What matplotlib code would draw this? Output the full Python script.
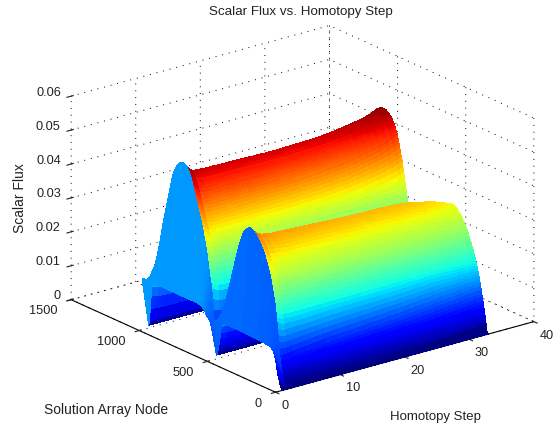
import numpy as np
import matplotlib
matplotlib.use("Agg")
import matplotlib.pyplot as plt

# values, denser nodes on the steep flanks so colour bands stay thin
near_nodes = [0, 12, 20, 24, 28, 32, 36, 40, 44, 48, 52, 56, 60, 64, 68, 72, 76, 80, 84, 88, 92, 96,
              102, 108, 114, 120, 126, 132, 138, 144, 150, 156, 168, 180, 192, 204, 216, 228, 240, 252, 264, 276,
              288, 300, 312, 324, 336, 348, 360, 372, 384, 396, 408, 420, 432, 444, 456, 468, 480, 492, 498, 504,
              510, 516, 522, 528]
far_nodes = [540, 546, 552, 558, 564, 570, 576, 582, 588, 594, 600, 606, 612, 618, 624, 630, 636, 642, 648, 654,
             660, 666, 672, 678, 684, 690, 696, 702, 708, 714, 720, 732, 744, 756, 768, 780, 792, 804, 816, 828,
             840, 852, 864, 876, 888, 900, 912, 924, 936, 948, 960, 972, 984, 990, 996, 1002, 1008, 1014, 1020, 1026]

# flat first guess (step 1)
near_first = [0, .0012, .0024, .0030, .0037, .0044, .0052, .0063, .0074, .0085, .0090, .0095, .0100, .0103, .0106, .0108,
              .0109, .0111, .0112, .0113, .0113, .0114, .0114, .0115, .0115, .0116, .0116, .0116, .0116, .0117, .0117, .0117,
              .0117, .0118, .0118, .0118, .0118, .0119, .0119, .0119, .0119, .0119, .0120, .0120, .0120, .0120, .0120, .0120,
              .0120, .0120, .0120, .0120, .0120, .0120, .0120, .0120, .0120, .0120, .0119, .0118, .0117, .0116,
              .0115, .0114, .0113, .0112]
far_first = [.0114, .0117, .0120, .0124, .0128, .0132, .0135, .0138, .0140, .0142, .0143, .0144, .0144, .0145,
             .0145, .0145, .0145, .0145, .0145, .0145, .0145, .0145, .0145, .0145, .0145, .0145, .0145, .0145,
             .0145, .0145, .0145, .0145, .0145, .0145, .0145, .0145, .0145, .0145, .0145, .0145, .0145, .0145,
             .0145, .0145, .0145, .0145, .0145, .0145, .0145, .0145, .0145, .0145, .0145, .0145, .0145, .0145,
             .0145, .0145, .0145, .0140]

# profile at step 2
near_start = [0, 0, .0001, .0002, .0006, .0012, .0018, .0027, .0036, .0045, .0054, .0063, .0072, .0089, .0107, .0125,
              .0143, .0162, .0180, .0195, .0210, .0225, .0240, .0255, .0268, .0280, .0293, .0305, .0315, .0325, .0334, .0342,
              .0356, .0369, .0380, .0390, .0398, .0406, .0412, .0417, .0421, .0423, .0422, .0419, .0413, .0405, .0394, .0378,
              .0360, .0340, .0319, .0296, .0273, .0250, .0227, .0205, .0183, .0160, .0130, .0095, .0075, .0055,
              .0037, .0020, .0009, .0003]
far_start = [.0070, .0103, .0135, .0165, .0195, .0210, .0225, .0243, .0260, .0278, .0295, .0309, .0322, .0334,
             .0345, .0357, .0368, .0378, .0388, .0397, .0405, .0415, .0425, .0434, .0443, .0453, .0462, .0472,
             .0482, .0490, .0498, .0510, .0518, .0523, .0526, .0526, .0523, .0517, .0510, .0500, .0488, .0470,
             .0445, .0418, .0392, .0366, .0340, .0312, .0280, .0250, .0225, .0200, .0180, .0165, .0150, .0120,
             .0090, .0052, .0015, 0]

# profile at last step
near_end = [0, .0004, .0028, .0040, .0052, .0063, .0075, .0084, .0093, .0102, .0112, .0123, .0133, .0141, .0150, .0158,
            .0165, .0173, .0180, .0187, .0193, .0200, .0209, .0218, .0226, .0234, .0242, .0249, .0256, .0262, .0269, .0275,
            .0286, .0296, .0304, .0312, .0319, .0325, .0329, .0332, .0333, .0333, .0332, .0330, .0326, .0320, .0312, .0304,
            .0294, .0283, .0270, .0256, .0240, .0222, .0203, .0182, .0160, .0138, .0115, .0090, .0075, .0060,
            .0042, .0025, .0012, .0004]
far_end = [.0060, .0095, .0130, .0158, .0185, .0210, .0235, .0252, .0268, .0283, .0298, .0314, .0330, .0348,
           .0365, .0381, .0396, .0408, .0420, .0433, .0445, .0456, .0467, .0475, .0482, .0488, .0494, .0499,
           .0504, .0508, .0511, .0517, .0521, .0524, .0525, .0525, .0523, .0520, .0516, .0510, .0502, .0492,
           .0478, .0460, .0440, .0418, .0392, .0365, .0335, .0300, .0265, .0230, .0190, .0168, .0145, .0115,
           .0085, .0050, .0015, 0]

# ridge heights and shape mix for steps 2..33
near_peak = [.0423, .0400, .0394, .0390, .0388, .0387, .0386, .0385, .0384, .0383, .0382, .0381, .0380, .0379, .0378, .0377,
             .0376, .0376, .0375, .0375, .0375, .0374, .0373, .0372, .0370, .0367, .0363, .0358, .0354, .0348, .0341, .0333]
far_peak = [.0526, .0498, .0492, .0490, .0489, .0489, .0488, .0488, .0488, .0487, .0487, .0486, .0486, .0485, .0485, .0485,
            .0486, .0486, .0487, .0487, .0488, .0489, .0490, .0492, .0494, .0497, .0500, .0503, .0506, .0510, .0516, .0525]
shape_mix = [0, .05, .1, .14, .17, .2, .23, .26, .28, .3, .32, .34, .36, .38, .4, .42,
             .44, .46, .48, .5, .53, .56, .59, .62, .66, .7, .74, .78, .83, .88, .94, 1]

x_ticks = [0, 10, 20, 30, 40]
y_ticks = [0, 500, 1000, 1500]
z_ticks = [0, 0.01, 0.02, 0.03, 0.04, 0.05, 0.06]
z_tick_labels = ['0', '0.01', '0.02', '0.03', '0.04', '0.05', '0.06']

plt.rcParams['font.family'] = ['Liberation Sans', 'DejaVu Sans']
plt.rcParams['font.size'] = 9.2
plt.rcParams['grid.color'] = 'black'
plt.rcParams['grid.linewidth'] = 0.7
plt.rcParams['grid.linestyle'] = (0, (1, 6))

nodes = np.array(near_nodes + far_nodes)
steps = np.arange(1, 34)

# build the surface, one row per homotopy step
near_a = np.array(near_start) / max(near_start)
near_b = np.array(near_end) / max(near_end)
far_a = np.array(far_start) / max(far_start)
far_b = np.array(far_end) / max(far_end)

rows = [np.array(near_first + far_first)]
for i in range(len(near_peak)):
    m = shape_mix[i]
    near_row = ((1 - m) * near_a + m * near_b) * near_peak[i]
    far_row = ((1 - m) * far_a + m * far_b) * far_peak[i]
    rows.append(np.concatenate([near_row, far_row]))
Z = np.array(rows)

Y, X = np.meshgrid(nodes, steps)
colors = plt.cm.jet(Z / Z.max())

fig = plt.figure(figsize=(5.56, 4.26), dpi=100)
# the 3d box is laid out in a big square so nothing gets clipped
ax = fig.add_axes([-5.6 / 556, -91 / 426, 600 / 556, 600 / 426], projection='3d', proj_type='ortho')
ax.patch.set_alpha(0)
fig.patch.set_facecolor('white')
ax.view_init(elev=20.6, azim=-127.85)
ax.set_box_aspect((328, 334, 218), zoom=500 / 600)
ax.computed_zorder = False

# the strip between step 1 and 2 sits in front of the rest, painter sort gets it wrong
ax.plot_surface(X[1:], Y[1:], Z[1:], facecolors=colors[1:], rcount=Z.shape[0], ccount=Z.shape[1],
                shade=False, linewidth=0, antialiased=False, zorder=1)
ax.plot_surface(X[:2], Y[:2], Z[:2], facecolors=colors[:2], rcount=2, ccount=Z.shape[1],
                shade=False, linewidth=0, antialiased=False, zorder=2)

ax.set_xlim(0, 40)
ax.set_ylim(0, 1500)
ax.set_zlim(0, 0.06)
ax.set_xticks(x_ticks)
ax.set_yticks(y_ticks)
ax.set_zticks(z_ticks)
ax.set_zticklabels(z_tick_labels)

for axis in (ax.xaxis, ax.yaxis, ax.zaxis):
    axis.set_pane_color((1, 1, 1, 0))
    axis.pane.set_edgecolor((1, 1, 1, 0))
    axis.line.set_linewidth(0.8)
ax.zaxis.line.set_color((0, 0, 0, 0))
ax.tick_params(axis='x', colors='#222222', pad=-2)
ax.tick_params(axis='y', colors='#222222', pad=4)
ax.tick_params(axis='z', colors='#222222', pad=-3)
plt.setp(ax.get_xticklabels(), ha='left')
plt.setp(ax.get_yticklabels(), ha='right', va='baseline')
plt.setp(ax.get_zticklabels(), ha='right', va='baseline')

fig.text(301 / 556, 1 - 12.5 / 426, 'Scalar Flux vs. Homotopy Step', ha='center', va='center', color='#222222', fontsize=9.6)
fig.text(20 / 556, 1 - 198 / 426, 'Scalar Flux', rotation=90, ha='center', va='center', color='#222222', fontsize=10)
fig.text(106 / 556, 1 - 410 / 426, 'Solution Array Node', ha='center', va='center', color='#222222', fontsize=10)
fig.text(435 / 556, 1 - 417 / 426, 'Homotopy Step', ha='center', va='center', color='#222222', fontsize=9.5)

fig.savefig('out.png', dpi=100)
